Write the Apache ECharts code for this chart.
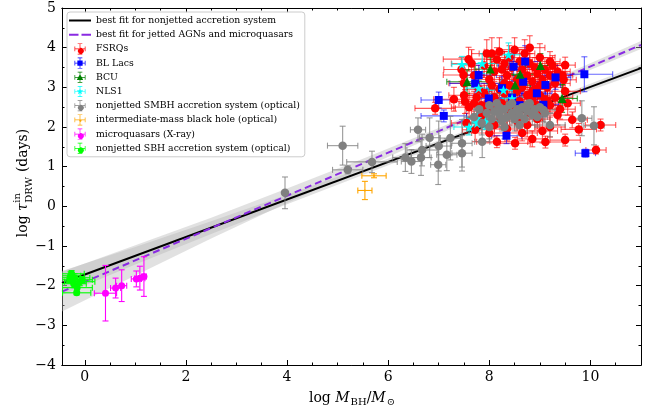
<!DOCTYPE html>
<html>
<head>
<meta charset="utf-8">
<script src="https://cdn.jsdelivr.net/npm/echarts@6/dist/echarts.min.js"></script>
<style>
  html, body { margin: 0; padding: 0; background: #fff; }
  #grafica { width: 665px; height: 412px; }
</style>
</head>
<body>
<div id="grafica"></div>
<script>
// tick labels
var xTicks = [0, 2, 4, 6, 8, 10];
var xMinorTicks = [0.5, 1, 1.5, 2.5, 3, 3.5, 4.5, 5, 5.5, 6.5, 7, 7.5, 8.5, 9, 9.5, 10.5];

// best fit lines (end points) and their confidence bands
var fitNonjetted = [[-0.45, -1.933], [11, 3.483]];
var fitJetted = [[-0.45, -2.149], [11, 4.068]];
var bandX = [-0.45, 1, 2.5, 4, 5.5, 7, 8.5, 11];
var bandNonjettedLow = [-2.233, -1.467, -0.697, 0.052, 0.792, 1.521, 2.241, 3.383];
var bandNonjettedHigh = [-1.633, -1.027, -0.377, 0.292, 0.972, 1.661, 2.361, 3.583];
var bandJettedLow = [-2.649, -1.742, -0.808, 0.087, 0.962, 1.816, 2.651, 3.968];
var bandJettedHigh = [-1.649, -0.982, -0.288, 0.447, 1.202, 1.976, 2.771, 4.168];

// [log M, log tau, xerr, yerr]
var fsrq = [
  [7.45,3.45,0.35,0.3],[7.5,3.1,0.3,0.25],[7.65,3.6,0.4,0.35],[7.7,3.3,0.25,0.3],[7.8,2.95,0.3,0.2],
  [7.9,3.55,0.2,0.3],[7.95,3.85,0.3,0.35],[8.05,3.85,0.25,0.4],[8.1,3.4,0.35,0.25],[8.15,3.7,0.2,0.3],
  [8.2,3.9,0.3,0.35],[8.3,3.6,0.25,0.3],[8.35,3.3,0.4,0.25],[8.4,3.75,0.3,0.3],[8.45,3.5,0.2,0.35],
  [8.5,3.95,0.3,0.3],[8.55,3.2,0.35,0.25],[8.6,3.65,0.25,0.3],[8.65,3.45,0.3,0.2],[8.7,3.85,0.2,0.35],
  [8.75,3.3,0.3,0.3],[8.8,3.6,0.35,0.25],[8.85,3.15,0.25,0.3],[8.9,3.5,0.3,0.25],[8.95,3.35,0.2,0.3],
  [9.0,3.75,0.3,0.35],[9.05,3.2,0.35,0.25],[9.1,3.45,0.25,0.3],[9.15,3.0,0.3,0.25],[9.2,3.3,0.3,0.3],
  [9.25,3.55,0.2,0.25],[9.3,3.1,0.3,0.3],[9.35,3.4,0.25,0.2],[9.45,3.3,0.2,0.25],[9.5,2.9,0.3,0.3],
  [7.3,2.7,0.4,0.3],[7.5,2.8,0.3,0.25],[7.6,2.5,0.35,0.3],[7.75,2.75,0.3,0.2],[7.85,2.55,0.25,0.3],
  [7.9,2.85,0.3,0.25],[8.0,2.6,0.35,0.3],[8.05,3.05,0.25,0.25],[8.1,2.75,0.3,0.3],[8.15,2.45,0.2,0.25],
  [8.2,2.95,0.3,0.3],[8.25,2.6,0.35,0.2],[8.3,2.85,0.25,0.3],[8.35,2.5,0.3,0.25],[8.4,3.05,0.2,0.3],
  [8.45,2.7,0.3,0.25],[8.5,2.45,0.35,0.3],[8.55,2.9,0.25,0.25],[8.6,2.65,0.3,0.3],[8.65,3.0,0.2,0.25],
  [8.7,2.5,0.3,0.3],[8.75,2.8,0.25,0.2],[8.8,2.35,0.3,0.3],[8.85,2.7,0.35,0.25],[8.9,2.95,0.25,0.3],
  [8.95,2.55,0.3,0.25],[9.0,2.8,0.2,0.3],[9.05,2.4,0.3,0.25],[9.1,2.7,0.25,0.3],[9.2,2.55,0.3,0.2],
  [9.3,2.75,0.35,0.3],[9.4,2.45,0.3,0.25],[9.55,2.6,0.25,0.3],[6.93,2.47,0.4,0.15],[7.52,2.64,0.3,0.3],
  [7.55,2.1,0.3,0.25],[7.72,1.93,0.25,0.3],[7.85,2.25,0.3,0.2],[8.0,1.85,0.35,0.25],[8.1,2.05,0.25,0.3],
  [8.15,1.63,0.4,0.15],[8.25,2.2,0.3,0.25],[8.35,1.95,0.25,0.3],[8.51,1.59,0.3,0.15],[8.55,2.15,0.2,0.25],
  [8.65,1.85,0.3,0.2],[8.75,2.05,0.25,0.3],[8.85,1.7,0.3,0.2],[8.95,2.2,0.25,0.25],[9.05,1.9,0.3,0.3],
  [9.11,1.62,0.35,0.15],[9.2,2.0,0.3,0.25],[9.5,1.67,0.3,0.15],[9.64,2.18,0.3,0.2],[9.77,1.94,0.35,0.15],
  [10.2,2.05,0.3,0.15],[10.11,1.42,0.2,0.1],[9.35,2.3,0.3,0.25],[8.4,2.35,0.25,0.3],[7.95,2.4,0.3,0.25],
  [9.2,3.65,0.2,0.25],[9.5,3.56,0.2,0.2],[9.47,3.19,0.25,0.2],[8.8,4.0,0.3,0.3],[7.59,3.71,0.5,0.3],
  [7.49,3.31,0.4,0.25],[8.0,3.2,0.3,0.3],[8.25,3.45,0.3,0.25],[8.6,3.1,0.3,0.3],[9.0,3.05,0.3,0.25],
  [8.3,3.1,0.25,0.3],[8.85,2.9,0.3,0.25],[7.7,2.6,0.3,0.3],[9.15,2.65,0.25,0.25]
];
var bllac = [
  [7.0,2.68,0.35,0.2],[7.1,2.28,0.45,0.15],[7.72,3.1,0.5,0.3],[7.79,3.31,0.35,0.25],[8.48,3.52,0.3,0.35],
  [8.71,3.65,0.3,0.4],[8.25,2.98,0.3,0.3],[8.67,3.14,0.35,0.3],[8.94,2.85,0.3,0.25],[9.11,3.06,0.3,0.25],
  [9.31,3.25,0.3,0.3],[7.99,2.72,0.3,0.25],[9.07,2.56,0.3,0.3],[8.34,1.78,0.3,0.2],[9.88,3.33,0.56,0.44],
  [9.9,1.34,0.2,0.1],[8.6,2.55,0.3,0.3],[8.45,2.74,0.3,0.25]
];
var bcu = [
  [7.56,3.14,0.4,0.3],[8.02,3.46,0.3,0.3],[8.61,3.33,0.3,0.35],[8.51,3.06,0.3,0.25],[9.01,3.55,0.3,0.3],
  [9.44,2.72,0.3,0.35]
];
var nls1 = [
  [7.46,3.58,0.2,0.2],[7.86,3.6,0.3,0.25],[8.38,3.82,0.3,0.3],[7.79,2.98,0.25,0.2],[8.28,2.93,0.3,0.25],
  [8.45,2.72,0.2,0.2],[7.76,2.1,0.3,0.2],[7.92,2.14,0.25,0.2],[7.6,2.0,0.3,0.2],[7.76,2.22,0.2,0.2]
];
var smbh = [
  [3.96,0.34,0.05,0.4],[5.1,1.53,0.3,0.49],[5.2,0.92,0.3,0.1],[5.68,1.12,0.5,0.27],[6.34,1.23,0.25,0.35],
  [6.46,1.13,0.2,0.3],[6.59,1.93,0.15,0.3],[6.67,1.42,0.3,0.4],[6.65,1.23,0.2,0.45],[6.82,1.73,0.2,0.5],
  [7.0,1.52,0.25,0.63],[7.23,1.72,0.2,0.55],[6.99,1.05,0.15,0.5],[7.46,1.59,0.2,0.6],[7.46,1.34,0.2,0.45],
  [7.86,1.63,0.15,0.4],[9.83,2.22,0.2,0.44],[10.07,2.03,0.2,0.48],[9.2,2.05,0.3,0.3],[9.07,2.43,0.25,0.3],
  [7.16,1.3,0.2,0.4],
  [7.7,2.25,0.2,0.3],[7.8,2.45,0.25,0.25],[7.85,2.1,0.2,0.3],[7.95,2.35,0.2,0.25],[8.0,2.55,0.25,0.3],
  [8.05,2.2,0.2,0.25],[8.1,2.4,0.25,0.3],[8.15,2.6,0.2,0.25],[8.2,2.3,0.25,0.3],[8.25,2.15,0.2,0.25],
  [8.3,2.45,0.25,0.3],[8.35,2.25,0.2,0.25],[8.4,2.55,0.25,0.3],[8.45,2.35,0.2,0.25],[8.5,2.2,0.25,0.3],
  [8.55,2.45,0.2,0.25],[8.6,2.3,0.25,0.3],[8.65,2.5,0.2,0.25],[8.7,2.2,0.25,0.3],[8.75,2.4,0.2,0.25],
  [8.8,2.6,0.25,0.3],[8.85,2.3,0.2,0.25],[8.9,2.45,0.25,0.3],[8.95,2.25,0.2,0.25],[9.0,2.5,0.25,0.3],
  [9.1,2.35,0.2,0.25],[8.3,2.0,0.25,0.3],[8.6,2.05,0.2,0.25],[8.0,2.0,0.25,0.3],[8.45,2.6,0.2,0.25],
  [8.2,2.5,0.2,0.3],[8.75,2.55,0.2,0.25]
];
var imbh = [[5.72,0.77,0.24,0.05],[5.54,0.40,0.14,0.23]];
var microquasar = [
  [0.41,-2.19,0.22,0.7],[0.61,-2.06,0.1,0.25],[0.73,-2.0,0.1,0.4],[1.02,-1.83,0.1,0.2],
  [1.09,-1.81,0.1,0.3],[1.17,-1.77,0.05,0.5]
];
var sbh = [
  [-0.26,-1.7,0.25,0.08],[-0.2,-1.8,0.3,0.1],[-0.3,-1.85,0.2,0.08],[-0.1,-1.9,0.3,0.1],[-0.22,-1.95,0.25,0.1],
  [-0.05,-1.85,0.2,0.08],[-0.15,-2.05,0.3,0.1],[-0.16,-2.18,0.28,0.05],[-0.28,-1.75,0.2,0.1]
];

var serif = '"DejaVu Serif", serif';

function barraError(color) {
  return function (params, api) {
    var x = api.value(0), y = api.value(1), xe = api.value(2), ye = api.value(3);
    var c = api.coord([x, y]);
    var l = api.coord([x - xe, y]), r = api.coord([x + xe, y]);
    var t = api.coord([x, y + ye]), b = api.coord([x, y - ye]);
    var cap = 3;
    var st = { stroke: color, lineWidth: 1.1 };
    return {
      type: 'group',
      children: [
        { type: 'line', shape: { x1: l[0], y1: c[1], x2: r[0], y2: c[1] }, style: st },
        { type: 'line', shape: { x1: c[0], y1: t[1], x2: c[0], y2: b[1] }, style: st },
        { type: 'line', shape: { x1: l[0], y1: c[1] - cap, x2: l[0], y2: c[1] + cap }, style: st },
        { type: 'line', shape: { x1: r[0], y1: c[1] - cap, x2: r[0], y2: c[1] + cap }, style: st },
        { type: 'line', shape: { x1: c[0] - cap, y1: t[1], x2: c[0] + cap, y2: t[1] }, style: st },
        { type: 'line', shape: { x1: c[0] - cap, y1: b[1], x2: c[0] + cap, y2: b[1] }, style: st }
      ]
    };
  };
}

function banda(low, high, fill) {
  var filas = bandX.map(function (x, i) { return [x, low[i], high[i]]; });
  return {
    type: 'custom', silent: true, z: 1,
    data: filas,
    encode: { x: 0, y: 1 },
    renderItem: function (params, api) {
      if (params.dataIndex !== 0) return null;
      var pts = [];
      filas.forEach(function (f) { pts.push(api.coord([f[0], f[2]])); });
      filas.slice().reverse().forEach(function (f) { pts.push(api.coord([f[0], f[1]])); });
      return { type: 'polygon', shape: { points: pts }, style: { fill: fill } };
    }
  };
}

var barras = 'M1,9.4 L19,9.4 L19,10.6 L1,10.6 Z M9.4,1 L10.6,1 L10.6,19 L9.4,19 Z ' +
  'M0.6,6 L1.8,6 L1.8,14 L0.6,14 Z M18.2,6 L19.4,6 L19.4,14 L18.2,14 Z ' +
  'M6,0.6 L14,0.6 L14,1.8 L6,1.8 Z M6,18.2 L14,18.2 L14,19.4 L6,19.4 Z';
var iconos = {
  circle: 'path://' + barras + ' M15,10 A5,5 0 1,1 14.99,9.99 Z',
  rect: 'path://' + barras + ' M5.5,5.5 L14.5,5.5 L14.5,14.5 L5.5,14.5 Z',
  triangle: 'path://' + barras + ' M10,4.5 L15.5,14.5 L4.5,14.5 Z',
  star: 'path://' + barras + ' M10,4 L11.4,8 L15.7,8.1 L12.3,10.7 L13.5,14.8 L10,12.4 L6.5,14.8 L7.7,10.7 L4.3,8.1 L8.6,8 Z',
  small: 'path://' + barras + ' M12,10 A2,2 0 1,1 11.99,9.99 Z'
};
var starPath = 'path://M0,-10 L2.35,-3.24 L9.51,-3.09 L3.8,1.24 L5.88,8.09 L0,4 L-5.88,8.09 L-3.8,1.24 L-9.51,-3.09 L-2.35,-3.24 Z';

var grupos = [
  { name: 'FSRQs', data: fsrq, color: '#ff0000', bar: 'rgba(255,0,0,0.65)', symbol: 'circle', size: 8.5, icon: iconos.circle },
  { name: 'BL Lacs', data: bllac, color: '#0000ff', bar: 'rgba(0,0,255,0.6)', symbol: 'rect', size: 8, icon: iconos.rect },
  { name: 'BCU', data: bcu, color: '#008000', bar: 'rgba(0,128,0,0.8)', symbol: 'triangle', size: 9, icon: iconos.triangle },
  { name: 'NLS1', data: nls1, color: '#00ffff', bar: 'rgba(0,235,235,0.8)', symbol: starPath, size: 10, icon: iconos.star },
  { name: 'nonjetted SMBH accretion system (optical)', data: smbh, color: '#808080', bar: 'rgba(128,128,128,0.8)', symbol: 'circle', size: 8.5, icon: iconos.circle },
  { name: 'intermediate-mass black hole (optical)', data: imbh, color: '#ffa500', bar: '#ffa500', symbol: 'circle', size: 2, icon: iconos.small },
  { name: 'microquasars (X-ray)', data: microquasar, color: '#ff00ff', bar: '#ff00ff', symbol: 'circle', size: 7, icon: iconos.circle },
  { name: 'nonjetted SBH accretion system (optical)', data: sbh, color: '#00ff00', bar: '#00ff00', symbol: 'circle', size: 7, icon: iconos.circle }
];

var series = [
  banda(bandNonjettedLow, bandNonjettedHigh, 'rgba(180,180,180,0.4)'),
  banda(bandJettedLow, bandJettedHigh, 'rgba(180,180,180,0.4)'),
  {
    name: 'best fit for nonjetted accretion system', type: 'line', data: fitNonjetted,
    showSymbol: false, silent: true, z: 3,
    itemStyle: { color: '#000' }, lineStyle: { color: '#000', width: 2 }
  },
  {
    name: 'best fit for jetted AGNs and microquasars', type: 'line', data: fitJetted,
    showSymbol: false, silent: true, z: 3,
    itemStyle: { color: '#8a2be2' }, lineStyle: { color: '#8a2be2', width: 2, type: [7, 4] }
  }
];
grupos.forEach(function (g) {
  series.push({
    name: g.name + ' err', type: 'custom', silent: true, z: 4, clip: true,
    data: g.data, encode: { x: 0, y: 1 }, renderItem: barraError(g.bar)
  });
  series.push({
    name: g.name, type: 'scatter', silent: true, z: 4, clip: true,
    data: g.data.map(function (d) { return [d[0], d[1]]; }),
    symbol: g.symbol, symbolSize: g.size,
    itemStyle: { color: g.color, opacity: 1 }
  });
});

var legendData = [
  { name: 'best fit for nonjetted accretion system', icon: 'path://M0,0 L22,0 L22,2 L0,2 Z' },
  { name: 'best fit for jetted AGNs and microquasars', icon: 'path://M0,0 L9.5,0 L9.5,2 L0,2 Z M12.5,0 L22,0 L22,2 L12.5,2 Z' }
].concat(grupos.map(function (g) { return { name: g.name, icon: g.icon }; }));

// axis titles with sub/superscripts
var ctx = document.createElement('canvas').getContext('2d');
function ancho(txt, size, italic) {
  ctx.font = (italic ? 'italic ' : '') + size + 'px ' + serif;
  return ctx.measureText(txt).width;
}
function pieza(txt, x, y, size, italic) {
  return {
    type: 'text', x: x, y: y,
    style: { text: txt, fontSize: size, fontFamily: serif, fontStyle: italic ? 'italic' : 'normal',
      fill: '#000', align: 'left', verticalAlign: 'middle' }
  };
}

var fs = 14, fsub = 10;
var yw1 = ancho('log ', fs), yw2 = ancho('τ', fs, true);
var yw3 = Math.max(ancho('in', fsub), ancho('DRW', fsub)), yw4 = ancho(' (days)', fs);
var yTotal = yw1 + yw2 + yw3 + 1 + yw4, y0 = -yTotal / 2;
var yTitle = {
  type: 'group', x: 23, y: 183, rotation: Math.PI / 2,
  children: [
    pieza('log ', y0, 0, fs),
    pieza('τ', y0 + yw1, 0, fs, true),
    pieza('in', y0 + yw1 + yw2 + 0.5, -6, fsub),
    pieza('DRW', y0 + yw1 + yw2 + 0.5, 6, fsub),
    pieza(' (days)', y0 + yw1 + yw2 + yw3 + 1, 0, fs)
  ]
};

var xw1 = ancho('log ', fs), xw2 = ancho('M', fs, true), xw3 = ancho('BH', fsub);
var xw4 = ancho('/', fs), xw5 = ancho('M', fs, true), xw6 = ancho('⊙', fsub);
var xTotal = xw1 + xw2 + xw3 + xw4 + xw5 + xw6 + 2, x0 = -xTotal / 2;
var xTitle = {
  type: 'group', x: 352, y: 398,
  children: [
    pieza('log ', x0, 0, fs),
    pieza('M', x0 + xw1, 0, fs, true),
    pieza('BH', x0 + xw1 + xw2 + 1, 4, fsub),
    pieza('/', x0 + xw1 + xw2 + xw3 + 1, 0, fs),
    pieza('M', x0 + xw1 + xw2 + xw3 + xw4 + 1, 0, fs, true),
    pieza('⊙', x0 + xw1 + xw2 + xw3 + xw4 + xw5 + 2, 4, fsub)
  ]
};

function ejeX(position, values, len, labels) {
  return {
    type: 'value', min: -0.45, max: 11, position: position,
    axisLine: { show: true, onZero: false, lineStyle: { color: '#000', width: 1 } },
    axisTick: { show: true, inside: true, length: len, customValues: values, lineStyle: { color: '#000' } },
    axisLabel: labels
      ? { show: true, customValues: values, fontSize: 14, fontFamily: serif, color: '#000', margin: 5 }
      : { show: false },
    splitLine: { show: false }
  };
}
function ejeY(position, labels) {
  return {
    type: 'value', min: -4, max: 5, interval: 1, position: position,
    axisLine: { show: true, onZero: false, lineStyle: { color: '#000', width: 1 } },
    axisTick: { show: true, inside: true, length: 5, lineStyle: { color: '#000' } },
    minorTick: { show: true, splitNumber: 2, length: 2.5, lineStyle: { color: '#000' } },
    axisLabel: labels
      ? { show: true, fontSize: 14, fontFamily: serif, color: '#000', margin: 6,
          formatter: function (v) { return v < 0 ? '\u2212' + (-v) : String(v); } }
      : { show: false },
    splitLine: { show: false }
  };
}

var chart = echarts.init(document.getElementById('grafica'), null, { renderer: 'canvas' });
chart.setOption({
  animation: false,
  backgroundColor: '#fff',
  grid: { left: 62, right: 24, top: 8, bottom: 47, containLabel: false },
  xAxis: [
    ejeX('bottom', xTicks, 5, true),
    ejeX('bottom', xMinorTicks, 2.5, false),
    ejeX('top', xTicks, 5, false),
    ejeX('top', xMinorTicks, 2.5, false)
  ],
  yAxis: [ejeY('left', true), ejeY('right', false)],
  legend: {
    data: legendData,
    orient: 'vertical', left: 67, top: 12,
    itemWidth: 22, itemHeight: 11, itemGap: 3.2,
    padding: [3, 5, 3, 2],
    selectedMode: false,
    backgroundColor: 'rgba(255,255,255,0.85)',
    borderColor: '#cccccc', borderWidth: 1, borderRadius: 3,
    textStyle: { fontFamily: serif, fontSize: 9.3, color: '#000', lineHeight: 11 }
  },
  graphic: [yTitle, xTitle],
  series: series
});
</script>
</body>
</html>
